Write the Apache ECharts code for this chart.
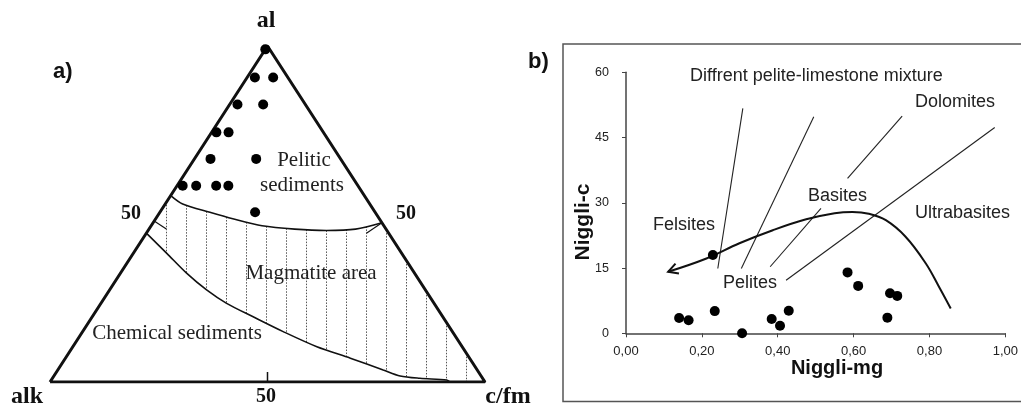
<!DOCTYPE html>
<html><head><meta charset="utf-8">
<script src="https://cdn.jsdelivr.net/npm/echarts@6/dist/echarts.min.js"></script>
<style>html,body{margin:0;padding:0;background:#fff}#c{width:1021px;height:410px}</style>
</head><body><div id="c"></div><script>
// ---------- Panel a: ternary diagram, values as [al, c/fm] (alk = 100 - al - c/fm)
const ternVertices = [[0, 0], [0, 100], [100, 0], [0, 0]]; // alk, c/fm, al, back to alk
const ternPoints = [[99, 0], [90.6, 1.8], [90.6, 6.0], [82.6, 1.8], [82.6, 7.7], [74.3, 1.1], [74.3, 3.9],
  [66.4, 3.7], [66.4, 14.2], [58.4, 1.3], [58.4, 4.4], [58.4, 9.0], [58.4, 11.8], [50.5, 21.9]];
const upperBoundary = [[55.5, 0], [53.0, 4.0], [50.5, 11.5], [48.5, 18.0], [46.5, 25.5], [45.5, 33.5],
  [45.1, 41.0], [45.5, 47.5], [47.4, 52.6]];
const upperHook = [[44.3, 50.6], [47.4, 52.6]];
const leftHook = [[47.9, 0], [45.5, 4.0]];
const lowerBoundary = [[44.3, 0], [38.3, 7.7], [32.4, 15.2], [27.4, 22.3], [23.4, 28.9], [19.4, 37.0],
  [15.0, 46.1], [10.5, 56.1], [7.1, 65.5], [3.6, 74.8], [1.8, 79.6], [1.1, 84.5], [0.6, 90.9], [0, 92]];
const baseTick = [[0, 50], [3, 48.5]];

// ---------- Panel b: Niggli-mg vs Niggli-c
const mgValues = [0.140, 0.165, 0.229, 0.234, 0.306, 0.384, 0.406, 0.429, 0.584, 0.612, 0.689, 0.696, 0.715];
const cValues  = [3.5, 3.0, 18.0, 5.1, 0.0, 3.3, 1.75, 5.2, 14.0, 10.9, 3.6, 9.2, 8.6];
const trendCurve = [[0.856, 5.7], [0.825, 10.7], [0.790, 16.1], [0.737, 22.2], [0.685, 26.0], [0.640, 27.5],
  [0.597, 27.9], [0.550, 27.6], [0.475, 26.2], [0.387, 23.7], [0.299, 20.7], [0.212, 17.2], [0.111, 14.15]];
const fieldLines = [
  [[0.308, 51.7], [0.242, 14.9]],
  [[0.495, 49.8], [0.304, 14.9]],
  [[0.728, 49.9], [0.584, 35.6]],
  [[0.514, 28.7], [0.380, 15.3]],
  [[0.972, 47.3], [0.422, 12.2]]
];
const xTickValues = [0, 0.2, 0.4, 0.6, 0.8, 1.0];
const yTickValues = [0, 15, 30, 45, 60];

// ---------- helpers
const tern = p => [p[1] + p[0] / 2, p[0]];           // [al, cfm] -> [x, y]
function interp(poly, u) {                               // poly in cartesian, monotonic x
  for (let i = 0; i < poly.length - 1; i++) {
    const a = poly[i], b = poly[i + 1];
    if (u >= a[0] && u <= b[0]) return a[1] + (b[1] - a[1]) * (u - a[0]) / (b[0] - a[0]);
  }
  return null;
}
const upC = upperBoundary.map(tern), loC = lowerBoundary.map(tern);
const hatch = [];
for (let u = 26.82; u < 97; u += 4.598) {
  let top = interp(upC, u);
  if (top === null) top = u < upC[0][0] ? 2 * u : 2 * (100 - u);
  top = Math.min(top, 2 * u, 2 * (100 - u));
  let bot = interp(loC, u);
  if (bot === null) bot = 0;
  if (top > bot) hatch.push({ coords: [[u, top], [u, bot]] });
}

const SERIF = '"Liberation Serif", "Times New Roman", serif';
const SANS = '"Liberation Sans", Arial, sans-serif';
function txt(text, x, y, size, o) {
  o = o || {};
  return {
    type: 'text', x: x, y: y, rotation: o.rot || 0, z: 100,
    style: {
      text: text, fontSize: size, fontFamily: o.font || SANS, fontWeight: o.bold ? 'bold' : 'normal',
      fill: o.color || '#111', align: o.align || 'center', verticalAlign: 'middle'
    }
  };
}

const chart = echarts.init(document.getElementById('c'), null, { renderer: 'canvas' });
const blackLine = (w) => ({ color: '#111', width: w });

const option = {
  animation: false,
  backgroundColor: '#fff',
  grid: [
    { left: 50, top: 46, width: 435, height: 336 },
    { left: 626, right: 14.3, top: 72.3, bottom: 76.7 }
  ],
  xAxis: [
    { gridIndex: 0, type: 'value', min: 0, max: 100, show: false },
    {
      gridIndex: 1, type: 'value', min: 0, max: 1, interval: 0.2,
      axisLine: { show: true, lineStyle: { color: '#444', width: 1.5 } },
      axisTick: { show: true, length: 4, lineStyle: { color: '#444' } },
      splitLine: { show: false },
      axisLabel: {
        fontSize: 13, color: '#222', fontFamily: SANS, margin: 12,
        formatter: v => xTickValues.some(t => Math.abs(t - v) < 1e-9) ? v.toFixed(2).replace('.', ',') : ''
      }
    }
  ],
  yAxis: [
    { gridIndex: 0, type: 'value', min: 0, max: 100, show: false },
    {
      gridIndex: 1, type: 'value', min: 0, max: 60, interval: 15,
      axisLine: { show: true, lineStyle: { color: '#444', width: 1.5 } },
      axisTick: { show: true, length: 4, lineStyle: { color: '#444' } },
      splitLine: { show: false },
      axisLabel: {
        fontSize: 12.5, color: '#222', fontFamily: SANS, margin: 17,
        formatter: v => yTickValues.indexOf(v) >= 0 ? String(v) : ''
      }
    }
  ],
  series: [
    // hatching of the magmatite area
    { type: 'lines', coordinateSystem: 'cartesian2d', xAxisIndex: 0, yAxisIndex: 0, polyline: false,
      silent: true, lineStyle: { color: '#555', width: 1, type: [1.5, 1.5], opacity: 1 }, data: hatch, z: 1 },
    { type: 'line', xAxisIndex: 0, yAxisIndex: 0, data: upperBoundary.map(tern), smooth: 0.3, symbol: 'none',
      lineStyle: blackLine(1.6), z: 3 },
    { type: 'line', xAxisIndex: 0, yAxisIndex: 0, data: lowerBoundary.map(tern), smooth: 0.3, symbol: 'none',
      lineStyle: blackLine(1.6), z: 3 },
    { type: 'line', xAxisIndex: 0, yAxisIndex: 0, data: upperHook.map(tern), symbol: 'none', lineStyle: blackLine(1.2), z: 3 },
    { type: 'line', xAxisIndex: 0, yAxisIndex: 0, data: leftHook.map(tern), symbol: 'none', lineStyle: blackLine(1.2), z: 3 },
    { type: 'line', xAxisIndex: 0, yAxisIndex: 0, data: baseTick.map(tern), symbol: 'none', lineStyle: blackLine(1.5), z: 3 },
    { type: 'line', xAxisIndex: 0, yAxisIndex: 0, data: ternVertices.map(tern), symbol: 'none',
      lineStyle: blackLine(3), z: 4 },
    { type: 'scatter', xAxisIndex: 0, yAxisIndex: 0, data: ternPoints.map(tern), symbolSize: 10,
      itemStyle: { color: '#000', opacity: 1 }, z: 5 },

    // panel b
    { type: 'lines', coordinateSystem: 'cartesian2d', xAxisIndex: 1, yAxisIndex: 1, silent: true,
      lineStyle: { color: '#222', width: 1.1, opacity: 1 }, data: fieldLines.map(c => ({ coords: c })), z: 3 },
    { type: 'line', xAxisIndex: 1, yAxisIndex: 1, data: trendCurve, smooth: 0.4, symbol: 'none',
      lineStyle: blackLine(2), z: 4 },
    { type: 'custom', xAxisIndex: 1, yAxisIndex: 1, data: [0], z: 4,
      renderItem: function (params, api) {
        const n = trendCurve.length;
        const tip = api.coord(trendCurve[n - 1]);
        const prev = api.coord(trendCurve[n - 2]);
        const ang = Math.atan2(prev[1] - tip[1], prev[0] - tip[0]);
        const L = 11, spread = 0.5;
        const a1 = [tip[0] + L * Math.cos(ang + spread), tip[1] + L * Math.sin(ang + spread)];
        const a2 = [tip[0] + L * Math.cos(ang - spread), tip[1] + L * Math.sin(ang - spread)];
        return { type: 'polyline', shape: { points: [a1, tip, a2] },
          style: { stroke: '#111', lineWidth: 2, fill: 'none' } };
      } },
    { type: 'scatter', xAxisIndex: 1, yAxisIndex: 1, data: mgValues.map((m, i) => [m, cValues[i]]),
      symbolSize: 10, itemStyle: { color: '#000', opacity: 1 }, z: 5 }
  ],
  graphic: [
    { type: 'rect', shape: { x: 563, y: 44, width: 480, height: 357.5 },
      style: { fill: 'none', stroke: '#555', lineWidth: 1.5 }, z: 0 },
    // panel a texts
    txt('a)', 53, 72, 22, { bold: true, align: 'left' }),
    txt('al', 266, 21, 24, { bold: true, font: SERIF }),
    txt('50', 131, 214, 20, { bold: true, font: SERIF }),
    txt('50', 406, 214, 20, { bold: true, font: SERIF }),
    txt('50', 266, 397, 20, { bold: true, font: SERIF }),
    txt('alk', 27, 397, 24, { bold: true, font: SERIF }),
    txt('c/fm', 508, 397, 24, { bold: true, font: SERIF }),
    txt('Pelitic', 304, 160, 21, { font: SERIF, color: '#222' }),
    txt('sediments', 302, 185, 21, { font: SERIF, color: '#222' }),
    txt('Magmatite area', 311, 273, 21, { font: SERIF, color: '#222' }),
    txt('Chemical sediments', 177, 333, 21, { font: SERIF, color: '#222' }),
    // panel b texts
    txt('b)', 528, 62, 22, { bold: true, align: 'left' }),
    txt('Diffrent pelite-limestone mixture', 690, 76, 18, { align: 'left', color: '#222' }),
    txt('Dolomites', 915, 102, 18, { align: 'left', color: '#222' }),
    txt('Basites', 808, 196, 18, { align: 'left', color: '#222' }),
    txt('Felsites', 653, 225, 18, { align: 'left', color: '#222' }),
    txt('Ultrabasites', 915, 213, 18, { align: 'left', color: '#222' }),
    txt('Pelites', 723, 283, 18, { align: 'left', color: '#222' }),
    txt('Niggli-c', 583, 222, 21, { bold: true, rot: Math.PI / 2 }),
    txt('Niggli-mg', 837, 368, 20, { bold: true })
  ]
};
chart.setOption(option);
</script></body></html>
